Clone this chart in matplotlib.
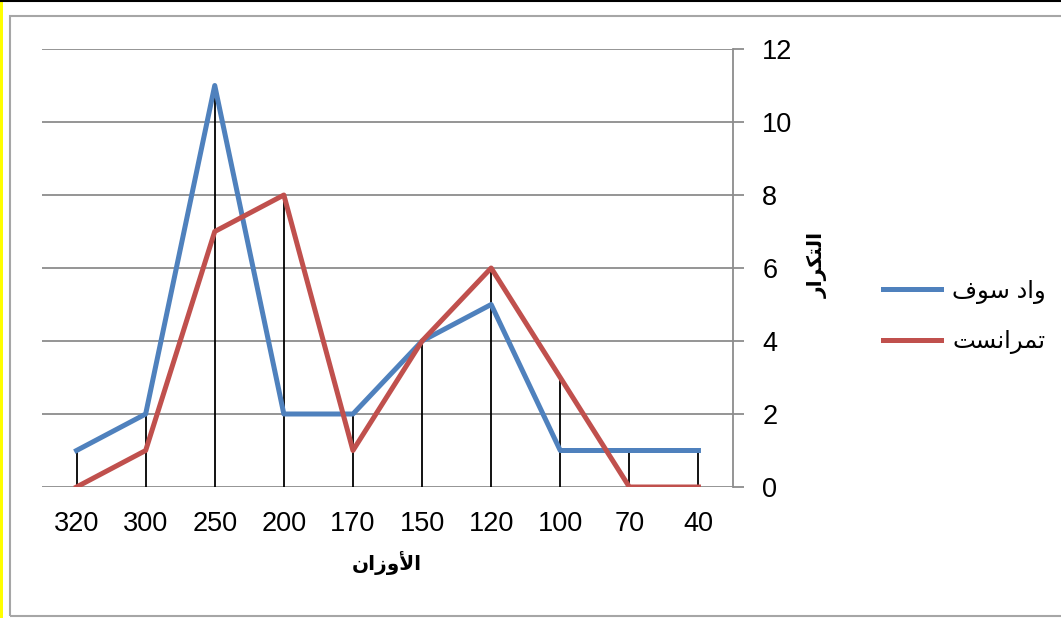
import matplotlib
matplotlib.use("Agg")
import matplotlib.pyplot as plt
from matplotlib.patches import Rectangle
from matplotlib.lines import Line2D
import numpy as np

plt.rcParams["font.family"] = ["Liberation Sans", "DejaVu Sans"]

# data (x axis runs from heavy to light)
weights = ["320", "300", "250", "200", "170", "150", "120", "100", "70", "40"]
oued_souf = [1, 2, 11, 2, 2, 4, 5, 1, 1, 1]
tamanrasset = [0, 1, 7, 8, 1, 4, 6, 3, 0, 0]
y_ticks = [0, 2, 4, 6, 8, 10, 12]

label_souf = "واد سوف"
label_taman = "تمرانست"
x_title = "الأوزان"
y_title = "التكرار"

# matplotlib does no arabic shaping, so pick presentation forms by hand
FORMS = {  # isolated, final, initial, medial
    "ا": (0xFE8D, 0xFE8E, None, None),
    "أ": (0xFE83, 0xFE84, None, None),
    "د": (0xFEA9, 0xFEAA, None, None),
    "ر": (0xFEAD, 0xFEAE, None, None),
    "ز": (0xFEAF, 0xFEB0, None, None),
    "و": (0xFEED, 0xFEEE, None, None),
    "ت": (0xFE95, 0xFE96, 0xFE97, 0xFE98),
    "س": (0xFEB1, 0xFEB2, 0xFEB3, 0xFEB4),
    "ف": (0xFED1, 0xFED2, 0xFED3, 0xFED4),
    "ك": (0xFED9, 0xFEDA, 0xFEDB, 0xFEDC),
    "ل": (0xFEDD, 0xFEDE, 0xFEDF, 0xFEE0),
    "م": (0xFEE1, 0xFEE2, 0xFEE3, 0xFEE4),
    "ن": (0xFEE5, 0xFEE6, 0xFEE7, 0xFEE8),
}
LAM_ALEF = {"ا": (0xFEFB, 0xFEFC), "أ": (0xFEF7, 0xFEF8)}


def arabic(text):
    out = []
    i = 0
    while i < len(text):
        ch = text[i]
        prev = text[i - 1] if i > 0 else " "
        joins_prev = prev in FORMS and FORMS[prev][2] is not None
        if ch == "ل" and i + 1 < len(text) and text[i + 1] in LAM_ALEF:
            out.append(chr(LAM_ALEF[text[i + 1]][1 if joins_prev else 0]))
            i += 2
            continue
        if ch not in FORMS:
            out.append(ch)
            i += 1
            continue
        iso, fin, ini, med = FORMS[ch]
        nxt = text[i + 1] if i + 1 < len(text) else " "
        joins_next = ini is not None and nxt in FORMS
        if joins_prev and joins_next:
            form = med
        elif joins_prev:
            form = fin
        elif joins_next:
            form = ini
        else:
            form = iso
        out.append(chr(form))
        i += 1
    return "".join(reversed(out))


W, H = 1061, 618
fig = plt.figure(figsize=(W / 100, H / 100), dpi=100)
ax = fig.add_axes([42 / W, 1 - 487 / H, (733 - 42) / W, (487 - 49) / H])

x = np.arange(len(weights))
tops = np.maximum(oued_souf, tamanrasset)

ax.vlines(x, 0, tops, color="black", linewidth=1.3, zorder=2)
ax.plot(x, oued_souf, color="#4F81BD", linewidth=3.6, label=arabic(label_souf),
        solid_joinstyle="round", zorder=3)
ax.plot(x, tamanrasset, color="#C0504D", linewidth=3.6, label=arabic(label_taman),
        solid_joinstyle="round", zorder=3)

ax.set_xlim(-0.5, len(weights) - 0.5)
ax.set_ylim(0, 12)
ax.set_xticks(x)
ax.set_xticklabels(weights)
ax.set_yticks(y_ticks)

ax.yaxis.tick_right()
ax.grid(axis="y", color="#8c8c8c", linewidth=1.3, zorder=1)
ax.set_axisbelow(True)
for side in ["top", "left", "bottom"]:
    ax.spines[side].set_visible(False)
ax.spines["right"].set_color("#8c8c8c")
ax.spines["right"].set_linewidth(1.3)

ax.tick_params(axis="x", length=0, pad=17, labelsize=19.5)
ax.tick_params(axis="y", which="major", direction="out", length=8, width=1.3,
               color="#8c8c8c", pad=13, labelsize=19.5)

fig.text(387 / W, 1 - 563 / H, arabic(x_title), fontsize=14.5, fontweight="bold",
         family="DejaVu Sans", ha="center", va="center")
fig.text(818 / W, 1 - 265 / H, arabic(y_title), fontsize=14.5, fontweight="bold",
         family="DejaVu Sans", rotation=90, ha="center", va="center")

leg = ax.legend(loc="center left", bbox_to_anchor=(883 / W, 1 - 317 / H),
                bbox_transform=fig.transFigure, frameon=False, fontsize=17.5,
                handlelength=2.4, handletextpad=0.45, labelspacing=1.1,
                borderpad=0, borderaxespad=0)

# outer chart frame, yellow strip and top rule from the page
fig.patches.append(Rectangle((10 / W, 2 / H), 1.2, 600 / H, transform=fig.transFigure,
                             fill=False, edgecolor="#a6a6a6", linewidth=1.5))
fig.patches.append(Rectangle((0, 0), 2.5 / W, 1, transform=fig.transFigure,
                             facecolor="#ffff00", edgecolor="none"))
fig.lines.append(Line2D([0, 1], [1 - 1 / H, 1 - 1 / H], transform=fig.transFigure,
                        color="black", linewidth=1.5))

fig.savefig("out.png", dpi=100)
